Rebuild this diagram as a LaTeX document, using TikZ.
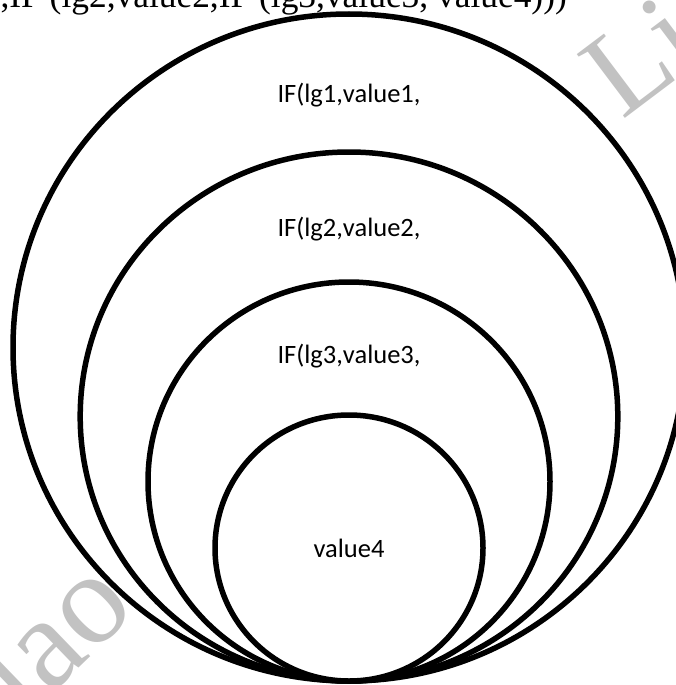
\documentclass[tikz,border=0pt]{standalone}
\usepackage{fontspec}
\usetikzlibrary{shapes.geometric}
\newfontfamily\lblfont{Carlito}
\newfontfamily\ttlfont{Liberation Serif}
\tikzset{
 ring/.style={ellipse, draw=black, line width=5.5pt, fill=white, inner sep=0pt, outer sep=0pt},
 lbl/.style={font=\lblfont\fontsize{26.5}{30}\selectfont, anchor=base, inner sep=0pt},
 wm/.style={font=\ttlfont\fontsize{#1}{#1}\selectfont, text=black!24, anchor=base west, inner sep=0pt},
 ttl/.style={font=\ttlfont\fontsize{35.4}{40}\selectfont, anchor=base east, inner sep=0pt}
}
\begin{document}
\begin{tikzpicture}[x=1pt,y=-1pt]
\useasboundingbox (0,0) rectangle (676,685);
\clip (0,0) rectangle (676,685);
\node[wm=130, rotate=44] (wm1) at (24.2,720.8) {iao};
\node[wm=122, rotate=37] (wm2) at (622,121) {Li};
\node[ring, minimum width=672pt, minimum height=667pt] (c1) at (349,347.5) {};
\node[ring, minimum width=537.6pt, minimum height=529pt] (c2) at (349,416.5) {};
\node[ring, minimum width=402pt, minimum height=399pt] (c3) at (349,481.5) {};
\node[ring, minimum width=268pt, minimum height=266pt] (c4) at (349,548) {};
\node[lbl] (l1) at (349,102.7) {IF(lg1,value1,};
\node[lbl] (l2) at (349,236) {IF(lg2,value2,};
\node[lbl] (l3) at (349,363) {IF(lg3,value3,};
\node[lbl] (l4) at (349,557) {value4};
\node[ttl] (title) at (567,7.5) {IF (lg1,value1,IF (lg2,value2,IF (lg3,value3, value4)))};
\end{tikzpicture}
\end{document}
